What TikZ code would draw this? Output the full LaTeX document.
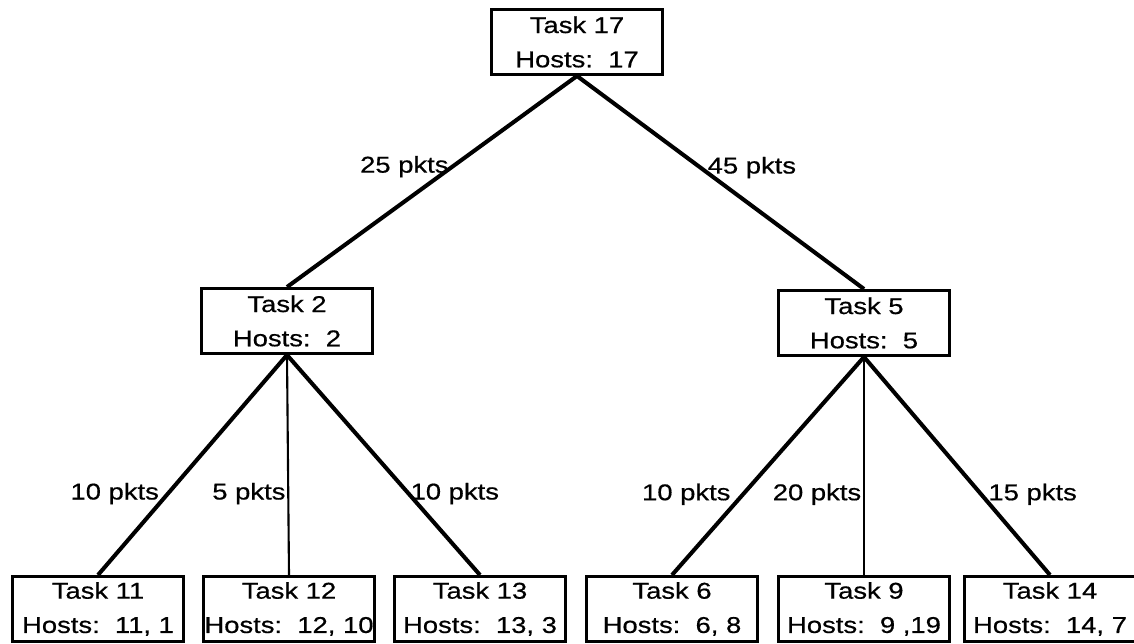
\documentclass[tikz,border=0pt]{standalone}
\usepackage{fontspec}
\setmainfont{Liberation Sans}[FakeStretch=1.2, FakeBold=0.6]
\usetikzlibrary{positioning}
\tikzstyle{tS}=[draw, line width=1.7pt, minimum width=3.44cm, minimum height=1.3cm, inner sep=0pt, align=center, font=\fontsize{13}{19.5}\selectfont]
\tikzstyle{eS}=[line width=2.3pt]
\tikzstyle{eThin}=[line width=1.2pt]
\tikzstyle{pL}=[inner sep=1pt, font=\fontsize{13}{15}\selectfont]

\begin{document}
\begin{tikzpicture}[x=0.02cm, y=-0.02cm]
                \useasboundingbox (0,0) rectangle (1134,644);
                \draw (577,42) node[tS] (t17) {Task 17\\Hosts:~~17};
                \draw (287,321) node[tS] (t2) {Task 2\\Hosts:~~2};
                \draw (864,323) node[tS] (t5) {Task 5\\Hosts:~~5};
                \draw (98,609) node[tS] (t11) {Task 11\\Hosts:~~11,~1};
                \draw (289,609) node[tS] (t12) {Task 12\\Hosts:~~12,~10};
                \draw (480,609) node[tS] (t13) {Task 13\\Hosts:~~13,~3};
                \draw (672,609) node[tS] (t6) {Task 6\\Hosts:~~6,~8};
                \draw (864,609) node[tS] (t9) {Task 9\\Hosts:~~9~,19};
                \draw (1050,609) node[tS] (t14) {Task 14\\Hosts:~~14,~7};
                \path
                    (t17.south) edge[eS] node[pL, pos=0.43, anchor=east]{25 pkts} (t2.north)
                    (t17.south) edge[eS] node[pL, pos=0.43, anchor=west, inner sep=3pt]{45 pkts} (t5.north)
                    (t2.south) edge[eS] node[pL, pos=0.63, anchor=east, inner sep=4pt]{10 pkts} (t11.north)
                    (t2.south) edge[eThin] node[pL, pos=0.63, anchor=east]{5 pkts} (t12.north)
                    (t2.south) edge[eS] node[pL, pos=0.63, anchor=west, inner sep=0pt]{10 pkts} (t13.north)
                    (t5.south) edge[eS] node[pL, pos=0.63, anchor=east, inner sep=6pt]{10 pkts} (t6.north)
                    (t5.south) edge[eThin] node[pL, pos=0.63, anchor=east]{20 pkts} (t9.north)
                    (t5.south) edge[eS] node[pL, pos=0.63, anchor=west, inner sep=3pt]{15 pkts} (t14.north)
                ;
        \end{tikzpicture}
\end{document}
